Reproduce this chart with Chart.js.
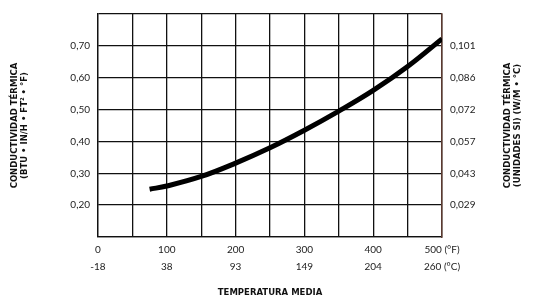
<!DOCTYPE html>
<html>
<head>
<meta charset="utf-8">
<script src="https://cdn.jsdelivr.net/npm/chart.js@4"></script>
<style>
  html, body { margin: 0; padding: 0; background: #fff; }
  #wrap { width: 533px; height: 298px; }
</style>
</head>
<body>
<div id="wrap"><canvas id="chart"></canvas></div>
<script>
  // mean temperature (°F) and conductivity (BTU·in/h·ft²·°F)
  const tempF = [75, 100, 150, 200, 250, 300, 350, 400, 450, 500];
  const conductivity = [0.25, 0.26, 0.29, 0.332, 0.38, 0.435, 0.495, 0.56, 0.635, 0.722];

  // axis labels
  const fahrenheitLabels = ['0', '100', '200', '300', '400', '500 (°F)'];
  const celsiusLabels = ['-18', '38', '93', '149', '204', '260 (°C)'];
  const imperialLabels = ['0,20', '0,30', '0,40', '0,50', '0,60', '0,70'];
  const siLabels = ['0,029', '0,043', '0,057', '0,072', '0,086', '0,101'];

  const leftTitle = ['CONDUCTIVIDAD TÉRMICA', '(BTU • IN/H • FT² • °F)'];
  const rightTitle = ['CONDUCTIVIDAD TÉRMICA', '(UNIDADES SI) (W/M • °C)'];
  const bottomTitle = 'TEMPERATURA MEDIA';

  const fontFamily = 'Lato, "Open Sans", sans-serif';
  const titleFamily = '"DejaVu Sans", sans-serif';
  const gridColor = '#111';

  function yLabel(list, v) {
    const i = Math.round(v * 10) - 2;
    return (i >= 0 && i < list.length) ? list[i] : '';
  }

  // side titles read bottom-to-top on both sides
  const sideTitles = {
    id: 'sideTitles',
    afterDraw(chart) {
      const ctx = chart.ctx;
      const area = chart.chartArea;
      const midY = (area.top + area.bottom) / 2;
      ctx.save();
      ctx.fillStyle = '#111';
      ctx.font = 'bold 8.5px ' + titleFamily;
      ctx.textAlign = 'center';
      ctx.textBaseline = 'middle';
      [[15, leftTitle], [508, rightTitle]].forEach(function (t) {
        t[1].forEach(function (line, i) {
          ctx.save();
          ctx.translate(t[0] + i * 10, midY);
          ctx.rotate(-Math.PI / 2);
          ctx.fillText(line, 0, 0);
          ctx.restore();
        });
      });
      ctx.restore();
    }
  };

  new Chart(document.getElementById('chart'), {
    type: 'line',
    data: {
      datasets: [{
        data: tempF.map(function (t, i) { return { x: t, y: conductivity[i] }; }),
        borderColor: '#000',
        borderWidth: 5,
        pointRadius: 0,
        tension: 0.4,
        fill: false
      }]
    },
    options: {
      responsive: true,
      maintainAspectRatio: false,
      animation: false,
      layout: { padding: { top: 8, left: 0, right: 0, bottom: 0 } },
      plugins: { legend: { display: false }, tooltip: { enabled: false } },
      scales: {
        x: {
          type: 'linear',
          min: 0,
          max: 500,
          afterFit: function (s) { s.height = 61; },
          grid: { color: gridColor, lineWidth: 1.3, drawTicks: false },
          border: { color: gridColor, width: 1.3 },
          ticks: {
            stepSize: 50,
            padding: 4,
            color: '#222',
            maxRotation: 0,
            autoSkip: false,
            font: { family: fontFamily, size: 10, lineHeight: 1.7 },
            callback: function (v) {
              if (v % 100 !== 0) return '';
              const i = v / 100;
              return [fahrenheitLabels[i], celsiusLabels[i]];
            }
          },
          title: {
            display: true,
            text: bottomTitle,
            color: '#111',
            padding: { top: 14, bottom: 0 },
            font: { family: titleFamily, size: 8.5, weight: 'bold' }
          }
        },
        y: {
          position: 'left',
          min: 0.1,
          max: 0.8,
          afterFit: function (s) { s.width = 98; },
          grid: { color: gridColor, lineWidth: 1.3, drawTicks: false },
          border: { color: gridColor, width: 1.3 },
          ticks: {
            stepSize: 0.1,
            padding: 8,
            color: '#222',
            font: { family: fontFamily, size: 10 },
            callback: function (v) { return yLabel(imperialLabels, v); }
          }
        },
        y2: {
          position: 'right',
          min: 0.1,
          max: 0.8,
          afterFit: function (s) { s.width = 91; },
          grid: { display: false, drawTicks: false },
          border: { color: '#5b3a30', width: 1.5 },
          ticks: {
            stepSize: 0.1,
            padding: 8,
            color: '#222',
            font: { family: fontFamily, size: 10 },
            callback: function (v) { return yLabel(siLabels, v); }
          }
        }
      }
    },
    plugins: [sideTitles]
  });
</script>
</body>
</html>
